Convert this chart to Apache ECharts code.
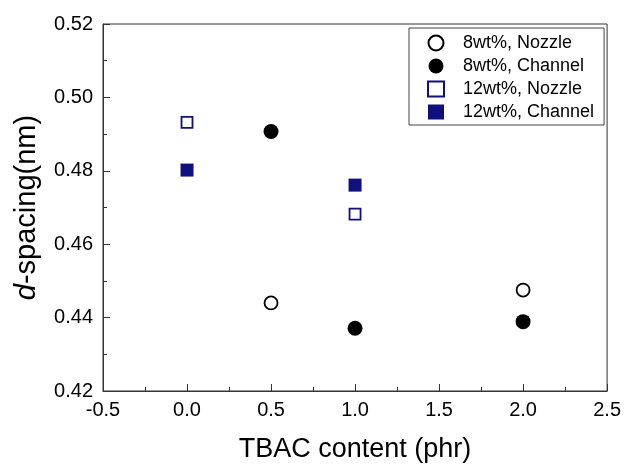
<!DOCTYPE html>
<html>
<head>
<meta charset="utf-8">
<script src="https://cdn.jsdelivr.net/npm/echarts@6/dist/echarts.min.js"></script>
<style>
 html, body { margin:0; padding:0; background:#fff; }
 #main { width:624px; height:468px; }
</style>
</head>
<body>
<div id="main"></div>
<script>
// d-spacing vs TBAC content
var tbacNozzle8 = [0.5, 2.0];
var nozzle8 = [0.4440, 0.4475];
var tbacChannel8 = [0.5, 1.0, 2.0];
var channel8 = [0.4907, 0.4371, 0.4389];

var tbac12 = [0.0, 1.0];
var nozzle12 = [0.4932, 0.4682];
var channel12 = [0.4802, 0.4761];

var names = ['8wt%, Nozzle', '8wt%, Channel', '12wt%, Nozzle', '12wt%, Channel'];
var xTicks = [-0.5, 0.0, 0.5, 1.0, 1.5, 2.0, 2.5];
var yTicks = [0.42, 0.44, 0.46, 0.48, 0.50, 0.52];

function pairs(xs, ys) {
	var out = [];
	for (var i = 0; i < xs.length; i++) out.push([xs[i], ys[i]]);
	return out;
}

var navy = '#10107f';
var font = 'Liberation Sans, Arial, sans-serif';

var chart = echarts.init(document.getElementById('main'));
chart.setOption({
	animation: false,
	textStyle: { fontFamily: font },
	grid: { left: 103, right: 16, top: 24, bottom: 75, show: true, borderColor: '#333', borderWidth: 1 },
	legend: {
		orient: 'vertical',
		left: 409, top: 28,
		padding: [6, 10, 4, 18],
		itemGap: 5,
		itemWidth: 16, itemHeight: 15,
		borderColor: '#444', borderWidth: 1,
		textStyle: { fontSize: 18, lineHeight: 18, color: '#000', fontFamily: font, padding: [0, 0, 0, 14] },
		data: names
	},
	xAxis: {
		type: 'value',
		min: xTicks[0], max: xTicks[xTicks.length - 1], interval: 0.5,
		axisLine: { onZero: false, lineStyle: { color: '#333', width: 1 } },
		axisTick: { inside: true, length: 7, lineStyle: { color: '#333' } },
		minorTick: { show: true, splitNumber: 2, length: 4, lineStyle: { color: '#333' } },
		splitLine: { show: false },
		axisLabel: { fontSize: 20, color: '#000', margin: 9, formatter: function (v) { return v.toFixed(1); } },
		name: 'TBAC content (phr)',
		nameLocation: 'middle', nameGap: 45,
		nameTextStyle: { fontSize: 27, color: '#000' }
	},
	yAxis: {
		type: 'value',
		min: yTicks[0], max: yTicks[yTicks.length - 1], interval: 0.02,
		axisLine: { show: true, onZero: false, lineStyle: { color: '#333', width: 1 } },
		axisTick: { show: true, inside: true, length: 7, lineStyle: { color: '#333' } },
		minorTick: { show: true, splitNumber: 2, length: 4, lineStyle: { color: '#333' } },
		splitLine: { show: false },
		axisLabel: { fontSize: 20, color: '#000', margin: 10, formatter: function (v) { return v.toFixed(2); } },
		name: '{i|d}-spacing(nm)',
		nameLocation: 'middle', nameGap: 62,
		nameTextStyle: {
			fontSize: 29, color: '#000',
			rich: { i: { fontStyle: 'italic', fontSize: 29, color: '#000', fontFamily: font } }
		}
	},
	series: [{
		name: names[0], type: 'scatter', symbol: 'circle', symbolSize: 13,
		itemStyle: { color: '#fff', borderColor: '#000', borderWidth: 1.8, opacity: 1 },
		data: pairs(tbacNozzle8, nozzle8)
	}, {
		name: names[1], type: 'scatter', symbol: 'circle', symbolSize: 15,
		itemStyle: { color: '#000', opacity: 1 },
		data: pairs(tbacChannel8, channel8)
	}, {
		name: names[2], type: 'scatter', symbol: 'rect', symbolSize: 11,
		itemStyle: { color: '#fff', borderColor: navy, borderWidth: 1.8, opacity: 1 },
		data: pairs(tbac12, nozzle12)
	}, {
		name: names[3], type: 'scatter', symbol: 'rect', symbolSize: 13,
		itemStyle: { color: navy, opacity: 1 },
		data: pairs(tbac12, channel12)
	}]
});
</script>
</body>
</html>
